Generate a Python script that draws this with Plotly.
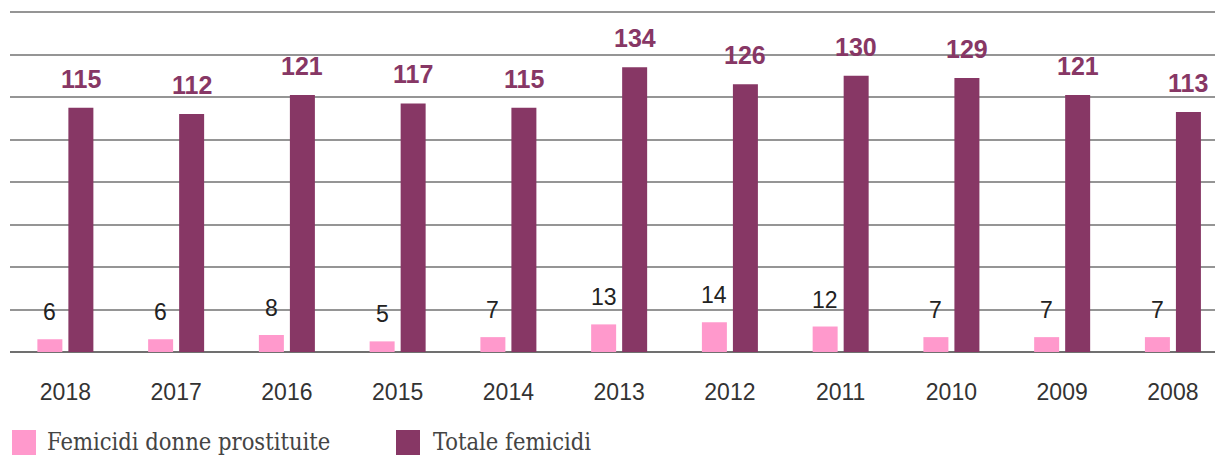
import plotly.graph_objects as go

years = ["2018", "2017", "2016", "2015", "2014", "2013", "2012", "2011", "2010", "2009", "2008"]
prostitute = [6, 6, 8, 5, 7, 13, 14, 12, 7, 7, 7]
totale = [115, 112, 121, 117, 115, 134, 126, 130, 129, 121, 113]
series_names = ["Femicidi donne prostituite", "Totale femicidi"]

PINK = "#FF99CC"
PURPLE = "#873765"

fig = go.Figure()
fig.add_trace(go.Bar(x=years, y=prostitute, name=series_names[0],
                     marker=dict(color=PINK, line=dict(width=0)), showlegend=False, hoverinfo="skip"))
fig.add_trace(go.Bar(x=years, y=totale, name=series_names[1],
                     marker=dict(color=PURPLE, line=dict(width=0)), showlegend=False, hoverinfo="skip"))

annotations = []
for i, v in enumerate(prostitute):
    annotations.append(dict(x=i, y=v, xref="x", yref="y", text=str(v), showarrow=False,
                            xshift=-15.5, yanchor="bottom", yshift=12,
                            font=dict(family="Liberation Sans, Arial", size=23, color="#222222")))
for i, v in enumerate(totale):
    annotations.append(dict(x=i, y=v, xref="x", yref="y", text="<b>%d</b>" % v, showarrow=False,
                            xshift=15.5, yanchor="bottom", yshift=13,
                            font=dict(family="Liberation Sans Narrow, Arial Narrow, Liberation Sans",
                                      size=25, color=PURPLE)))

ML, MT, MB = 10, 10, 106
W = 1215 - ML
H = 458 - MT - MB


def px_x(px):
    return (px - ML) / W


def px_y(py):
    return (458 - MB - py) / H


legend_font = dict(family="DejaVu Serif Condensed, DejaVu Serif", size=23.5, color="#444444")
leg_items = [(12, 430, PINK, series_names[0], 45), (396, 430, PURPLE, series_names[1], 431)]
shapes = []
for x0, y0, col, name, tx in leg_items:
    shapes.append(dict(type="rect", xref="paper", yref="paper", x0=px_x(x0), x1=px_x(x0 + 24),
                       y0=px_y(y0 + 25), y1=px_y(y0), fillcolor=col, line=dict(width=0)))
    annotations.append(dict(x=px_x(tx), y=px_y(442), xref="paper", yref="paper",
                            xanchor="left", yanchor="middle", showarrow=False,
                            text=name, font=legend_font))

fig.update_layout(
    width=1215, height=458,
    margin=dict(l=ML, r=0, t=MT, b=MB),
    paper_bgcolor="white", plot_bgcolor="white",
    barmode="group", bargap=0.44, bargroupgap=0.194,
    xaxis=dict(type="category", range=[-0.5, 10.38], showgrid=False, showline=False, zeroline=False,
               ticks="", ticklabelstandoff=24,
               tickfont=dict(family="Liberation Sans, Arial", size=23, color="#333333")),
    yaxis=dict(range=[0, 161], tickvals=[20, 40, 60, 80, 100, 120, 140, 160],
               showgrid=True, gridcolor="#959595", gridwidth=1.5,
               showticklabels=False, zeroline=True, zerolinecolor="#707070", zerolinewidth=1.5,
               showline=False, fixedrange=True),
    showlegend=False,
    annotations=annotations,
    shapes=shapes,
)

fig.write_html("out.html", config={"displayModeBar": False},
               post_script="document.body.style.margin='0';")
